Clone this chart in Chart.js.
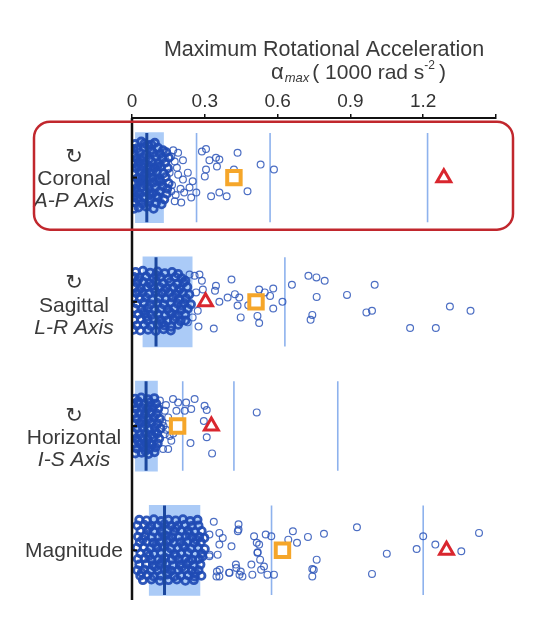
<!DOCTYPE html>
<html>
<head>
<meta charset="utf-8">
<script src="https://cdn.jsdelivr.net/npm/chart.js@4.4.1/dist/chart.umd.min.js"></script>
<style>
  html, body { margin: 0; padding: 0; background: #fff; }
  #wrap { width: 557px; height: 624px; }
</style>
</head>
<body>
<div id="wrap"><canvas id="accChart" width="557" height="624"></canvas></div>
<script>
// categories (one row per rotation axis)
var rowNames = ['Coronal', 'Sagittal', 'Horizontal', 'Magnitude'];
var rowAxes = ['A-P Axis', 'L-R Axis', 'I-S Axis', ''];
var rowPos = [1, 2, 3, 4];

// x ticks (1000 rad/s^2)
var xTicks = [0, 0.3, 0.6, 0.9, 1.2, 1.5];
var xTickLabels = ['0', '0.3', '0.6', '0.9', '1.2', ''];

// summary values per row
var boxLo = [0.014, 0.045, 0.014, 0.071];
var boxHi = [0.13, 0.248, 0.105, 0.28];
var medians = [0.061, 0.099, 0.058, 0.134];
var refLines = [[0.266, 0.569, 1.218], [0.63], [0.209, 0.42, 0.848], [0.575, 1.2]];
var squareX = [0.42, 0.511, 0.188, 0.62];
var triangleX = [1.285, 0.303, 0.327, 1.296];

// individual impacts: [value, vertical jitter within row]
// dense low-value cores
var coronalCore = [
  [0.012,-0.27],[0.038,-0.29],[0.066,-0.26],[0.094,-0.28],[0.052,-0.275],[0.08,-0.265],
  [0.021,-0.235],[0.049,-0.245],[0.078,-0.225],[0.107,-0.24],[0.128,-0.22],[0.006,-0.23],
  [0.008,-0.19],[0.031,-0.205],[0.058,-0.185],[0.087,-0.2],[0.116,-0.19],[0.141,-0.205],
  [0.019,-0.155],[0.043,-0.165],[0.071,-0.15],[0.098,-0.17],[0.126,-0.155],[0.152,-0.16],
  [0.006,-0.115],[0.028,-0.125],[0.052,-0.11],[0.081,-0.13],[0.109,-0.115],[0.137,-0.12],
  [0.017,-0.075],[0.041,-0.085],[0.063,-0.07],[0.092,-0.08],[0.119,-0.09],[0.148,-0.075],
  [0.009,-0.035],[0.033,-0.045],[0.055,-0.03],[0.074,-0.04],[0.101,-0.05],[0.131,-0.035],
  [0.022,0.005],[0.044,-0.01],[0.061,0.01],[0.083,0.0],[0.112,0.012],[0.139,-0.005],
  [0.011,0.045],[0.029,0.035],[0.053,0.05],[0.088,0.04],[0.118,0.03],[0.151,0.045],
  [0.019,0.085],[0.039,0.075],[0.069,0.09],[0.097,0.08],[0.127,0.07],[0.145,0.09],
  [0.007,0.12],[0.032,0.13],[0.057,0.115],[0.086,0.125],[0.114,0.11],[0.143,0.13],
  [0.023,0.165],[0.048,0.155],[0.077,0.17],[0.106,0.16],[0.133,0.175],[0.006,0.16],
  [0.013,0.2],[0.042,0.21],[0.068,0.195],[0.099,0.205],[0.122,0.215],
  [0.027,0.24],[0.059,0.235],[0.089,0.25],[0.008,0.25],
  [0.025,-0.1],[0.067,-0.1],[0.104,-0.09],[0.02,0.11],[0.073,0.135],[0.1,0.145],
  [0.035,-0.14],[0.085,-0.055],[0.045,0.02],[0.1,0.02],[0.065,0.06],[0.03,0.185]
];
var coronalOut = [
  [0.17,-0.22],[0.165,0.06],[0.18,0.14],[0.2,0.09],[0.185,-0.08],[0.215,0.12],
  [0.19,-0.2],[0.21,-0.14],[0.288,-0.21],[0.305,-0.23],[0.319,-0.14],[0.346,-0.16],
  [0.36,-0.145],[0.35,-0.09],[0.435,-0.2],[0.53,-0.105],[0.585,-0.065],[0.3,-0.01],
  [0.305,-0.065],[0.42,-0.065],[0.265,0.12],[0.326,0.15],[0.36,0.12],[0.39,0.15],
  [0.476,0.11],[0.25,0.03],[0.237,0.08],[0.21,0.016],[0.23,-0.04],[0.244,0.16],
  [0.203,0.2],[0.176,0.19],[0.162,0.11],[0.155,-0.04],[0.19,-0.024],[0.176,-0.13],[0.162,-0.17]
];

var sagittalCore = [
  [0.015,-0.24],[0.045,-0.25],[0.075,-0.235],[0.105,-0.245],[0.135,-0.23],[0.165,-0.24],[0.19,-0.225],
  [0.008,-0.2],[0.03,-0.195],[0.058,-0.205],[0.088,-0.19],[0.118,-0.2],[0.148,-0.185],[0.178,-0.2],[0.205,-0.19],
  [0.02,-0.155],[0.047,-0.16],[0.072,-0.15],[0.1,-0.165],[0.128,-0.15],[0.158,-0.16],[0.186,-0.145],[0.212,-0.155],
  [0.01,-0.115],[0.036,-0.11],[0.062,-0.12],[0.091,-0.105],[0.114,-0.12],[0.142,-0.11],[0.171,-0.115],[0.198,-0.105],[0.228,-0.12],
  [0.018,-0.07],[0.043,-0.075],[0.07,-0.065],[0.097,-0.08],[0.124,-0.07],[0.153,-0.075],[0.181,-0.06],[0.209,-0.07],[0.236,-0.06],
  [0.006,-0.03],[0.033,-0.025],[0.057,-0.035],[0.083,-0.02],[0.111,-0.03],[0.139,-0.025],[0.166,-0.035],[0.194,-0.02],[0.222,-0.03],
  [0.021,0.015],[0.048,0.005],[0.076,0.02],[0.104,0.01],[0.131,0.02],[0.16,0.005],[0.188,0.015],[0.215,0.01],[0.243,0.02],
  [0.012,0.055],[0.039,0.06],[0.065,0.05],[0.093,0.065],[0.12,0.055],[0.147,0.06],[0.175,0.05],[0.203,0.065],[0.23,0.055],
  [0.025,0.1],[0.052,0.095],[0.08,0.105],[0.108,0.1],[0.136,0.11],[0.163,0.095],[0.191,0.105],[0.219,0.1],
  [0.009,0.145],[0.037,0.14],[0.064,0.15],[0.09,0.135],[0.118,0.145],[0.145,0.15],[0.173,0.14],[0.2,0.155],
  [0.02,0.19],[0.05,0.185],[0.078,0.195],[0.107,0.18],[0.134,0.19],[0.162,0.2],[0.19,0.185],
  [0.034,0.23],[0.066,0.225],[0.098,0.235],[0.13,0.22],[0.16,0.23],[0.006,0.225],
  [0.028,-0.09],[0.082,-0.13],[0.135,-0.09],[0.19,-0.085],[0.05,0.075],[0.155,0.08],[0.205,0.03],
  [0.1,-0.215],[0.06,0.12],[0.18,0.12],[0.125,0.17],[0.025,-0.175],[0.22,-0.17],[0.22,0.15]
];
var sagittalOut = [
  [0.237,-0.22],[0.258,-0.21],[0.288,-0.17],[0.292,-0.1],[0.264,-0.076],[0.25,0.125],[0.23,0.165],
  [0.278,-0.22],[0.346,-0.13],[0.342,-0.09],[0.41,-0.18],[0.394,-0.035],[0.424,-0.062],
  [0.442,-0.035],[0.435,0.03],[0.448,0.125],[0.503,-0.02],[0.524,-0.1],[0.547,-0.076],
  [0.582,-0.108],[0.569,-0.048],[0.582,0.053],[0.517,0.113],[0.524,0.17],[0.479,0.027],
  [0.36,0.0],[0.337,0.215],[0.274,0.199],[0.271,0.072],[0.62,0.0],[0.659,-0.137],
  [0.727,-0.21],[0.76,-0.197],[0.794,-0.17],[0.761,-0.04],[0.743,0.105],[0.736,0.145],
  [0.886,-0.056],[1.0,-0.137],[0.966,0.085],[0.989,0.072],[1.146,0.21],[1.252,0.21],
  [1.31,0.037],[1.395,0.072]
];

var horizontalCore = [
  [0.012,-0.22],[0.038,-0.23],[0.066,-0.215],[0.092,-0.225],
  [0.006,-0.18],[0.027,-0.185],[0.05,-0.175],[0.075,-0.19],[0.1,-0.18],
  [0.016,-0.14],[0.04,-0.145],[0.062,-0.135],[0.086,-0.15],[0.108,-0.14],
  [0.008,-0.1],[0.03,-0.105],[0.054,-0.095],[0.078,-0.11],[0.102,-0.1],
  [0.019,-0.06],[0.043,-0.065],[0.067,-0.055],[0.09,-0.07],[0.114,-0.06],
  [0.01,-0.02],[0.033,-0.025],[0.057,-0.015],[0.081,-0.03],[0.105,-0.02],
  [0.021,0.02],[0.045,0.015],[0.069,0.025],[0.094,0.01],[0.118,0.02],
  [0.007,0.06],[0.031,0.065],[0.055,0.055],[0.08,0.07],[0.104,0.06],
  [0.018,0.1],[0.042,0.095],[0.065,0.105],[0.089,0.09],[0.112,0.1],
  [0.009,0.14],[0.034,0.145],[0.058,0.135],[0.083,0.15],[0.106,0.14],
  [0.02,0.18],[0.046,0.175],[0.071,0.185],[0.096,0.17],
  [0.013,0.22],[0.04,0.215],[0.068,0.225],[0.093,0.21],
  [0.025,-0.2],[0.07,-0.16],[0.045,-0.04],[0.095,0.045],[0.025,0.12],[0.075,0.145],[0.055,0.2]
];
var horizontalOut = [
  [0.115,-0.205],[0.169,-0.218],[0.19,-0.19],[0.223,-0.19],[0.258,-0.218],[0.244,-0.137],
  [0.299,-0.164],[0.308,-0.13],[0.296,-0.04],[0.308,0.09],[0.33,0.22],[0.241,0.137],
  [0.149,0.185],[0.203,0.024],[0.514,-0.11],[0.135,-0.124],[0.149,-0.07],[0.135,0.065],
  [0.162,0.118],[0.128,0.185],[0.217,-0.124],[0.183,-0.124],[0.14,-0.17],[0.13,0.0],
  [0.14,0.03],[0.155,0.08],[0.125,-0.03],[0.17,0.06]
];

var magnitudeCore = [
  [0.03,-0.245],[0.06,-0.24],[0.09,-0.25],[0.12,-0.235],[0.15,-0.245],[0.18,-0.24],[0.21,-0.25],[0.24,-0.235],[0.27,-0.245],
  [0.022,-0.2],[0.05,-0.205],[0.078,-0.195],[0.106,-0.2],[0.134,-0.21],[0.162,-0.195],[0.19,-0.2],[0.218,-0.205],[0.246,-0.195],[0.274,-0.2],
  [0.035,-0.155],[0.063,-0.16],[0.091,-0.15],[0.119,-0.155],[0.147,-0.165],[0.175,-0.15],[0.203,-0.155],[0.231,-0.16],[0.259,-0.15],[0.287,-0.155],
  [0.025,-0.11],[0.053,-0.115],[0.081,-0.105],[0.109,-0.11],[0.137,-0.12],[0.165,-0.105],[0.193,-0.11],[0.221,-0.115],[0.249,-0.105],[0.277,-0.11],[0.298,-0.1],
  [0.032,-0.065],[0.06,-0.07],[0.088,-0.06],[0.116,-0.065],[0.144,-0.075],[0.172,-0.06],[0.2,-0.065],[0.228,-0.07],[0.256,-0.06],[0.284,-0.065],
  [0.02,-0.02],[0.048,-0.025],[0.076,-0.015],[0.104,-0.02],[0.132,-0.03],[0.16,-0.015],[0.188,-0.02],[0.216,-0.025],[0.244,-0.015],[0.272,-0.02],[0.3,-0.01],
  [0.035,0.025],[0.063,0.02],[0.091,0.03],[0.119,0.025],[0.147,0.015],[0.175,0.03],[0.203,0.025],[0.231,0.02],[0.259,0.03],[0.287,0.025],
  [0.024,0.07],[0.052,0.065],[0.08,0.075],[0.108,0.07],[0.136,0.06],[0.164,0.075],[0.192,0.07],[0.22,0.065],[0.248,0.075],[0.276,0.07],
  [0.03,0.115],[0.058,0.11],[0.086,0.12],[0.114,0.115],[0.142,0.105],[0.17,0.12],[0.198,0.115],[0.226,0.11],[0.254,0.12],[0.282,0.115],
  [0.022,0.16],[0.05,0.155],[0.078,0.165],[0.106,0.16],[0.134,0.15],[0.162,0.165],[0.19,0.16],[0.218,0.155],[0.246,0.165],[0.274,0.16],
  [0.034,0.205],[0.062,0.2],[0.09,0.21],[0.118,0.205],[0.146,0.195],[0.174,0.21],[0.202,0.205],[0.23,0.2],[0.258,0.21],[0.286,0.205],
  [0.045,0.24],[0.08,0.235],[0.115,0.245],[0.15,0.24],[0.185,0.235],[0.22,0.245],[0.255,0.24],
  [0.045,-0.09],[0.1,-0.04],[0.155,-0.085],[0.21,-0.04],[0.265,-0.085],[0.07,0.045],[0.125,0.09],
  [0.18,0.045],[0.235,0.09],[0.04,0.18],[0.095,0.135],[0.15,0.18],[0.205,0.135],[0.26,0.18],
  [0.07,-0.18],[0.125,-0.135],[0.18,-0.18],[0.235,-0.135],[0.29,0.05]
];
var magnitudeOut = [
  [0.337,-0.23],[0.319,-0.127],[0.36,-0.14],[0.374,-0.1],[0.36,-0.046],[0.41,-0.032],
  [0.439,-0.21],[0.439,-0.167],[0.319,0.048],[0.353,0.035],[0.35,0.17],[0.36,0.21],
  [0.4,0.18],[0.428,0.115],[0.448,0.17],[0.455,0.21],[0.496,0.196],[0.492,0.115],
  [0.503,-0.113],[0.524,-0.046],[0.517,0.02],[0.528,0.075],[0.544,0.13],[0.558,0.196],
  [0.585,0.196],[0.551,-0.127],[0.574,-0.113],[0.663,-0.153],[0.644,-0.086],[0.68,-0.06],
  [0.725,-0.108],[0.749,0.156],[0.791,-0.133],[0.927,-0.186],[0.761,0.075],[0.743,0.15],
  [0.743,0.21],[0.989,0.19],[1.05,0.027],[1.173,-0.011],[1.2,-0.113],[1.25,-0.046],
  [1.357,0.008],[1.43,-0.14],[0.32,0.035],[0.361,0.156],[0.402,0.18],[0.443,0.196],
  [0.348,0.21],[0.43,0.142],[0.532,0.156],[0.518,0.016],[0.514,-0.06],[0.436,-0.153]
];

var coreRows = [coronalCore, sagittalCore, horizontalCore, magnitudeCore];
var outRows = [coronalOut, sagittalOut, horizontalOut, magnitudeOut];

var FONT = '"Liberation Sans", Arial, Helvetica, sans-serif';
var TEXT = '#3a3a3a';
var HALF = 0.36; // half height of a row's band, in row units

function toPoints(rows) {
  var out = [];
  rows.forEach(function(pts, i) {
    pts.forEach(function(p) {
      out.push({x: p[0], y: rowPos[i] + p[1]});
    });
  });
  return out;
}

function segments(valuesPerRow) {
  var out = [];
  valuesPerRow.forEach(function(vals, i) {
    vals.forEach(function(v) {
      out.push({x: v, y: rowPos[i] - HALF});
      out.push({x: v, y: rowPos[i] + HALF});
      out.push({x: v, y: null});
    });
  });
  return out;
}

var labelsPlugin = {
  id: 'rowLabels',
  beforeDraw: function(chart) {
    var c = chart.ctx;
    c.save();
    c.fillStyle = '#fff';
    c.fillRect(0, 0, chart.width, chart.height);
    c.restore();
  },
  afterDraw: function(chart) {
    var c = chart.ctx;
    var a = chart.chartArea;
    var ys = chart.scales.y;
    c.save();

    // left axis and row ticks
    c.strokeStyle = '#111';
    c.lineWidth = 2.5;
    c.beginPath();
    c.moveTo(a.left, a.top);
    c.lineTo(a.left, a.bottom);
    c.stroke();
    c.lineWidth = 2;
    rowPos.forEach(function(r) {
      var py = ys.getPixelForValue(r);
      c.beginPath();
      c.moveTo(a.left, py);
      c.lineTo(a.left + 5, py);
      c.stroke();
    });

    // row labels
    var shift = [2, 4, 12, 1];
    c.fillStyle = TEXT;
    c.textAlign = 'center';
    c.textBaseline = 'middle';
    rowNames.forEach(function(name, i) {
      var py = ys.getPixelForValue(rowPos[i]) + shift[i];
      var cx = 74;
      if (rowAxes[i]) {
        c.font = '21px "DejaVu Sans", sans-serif';
        c.fillText('\u21BB', cx, py - 22);
        c.font = '21px ' + FONT;
        c.fillText(name, cx, py);
        c.font = 'italic 21px ' + FONT;
        c.fillText(rowAxes[i], cx, py + 22);
      } else {
        c.font = '21px ' + FONT;
        c.fillText(name, cx, py);
      }
    });

    // axis title
    c.textBaseline = 'alphabetic';
    c.font = '21.5px ' + FONT;
    c.fillText('Maximum Rotational Acceleration', 324, 56);
    c.textAlign = 'left';
    var x0 = 271, base = 79;
    c.font = '22px ' + FONT;
    c.fillText('\u03B1', x0, base);
    x0 += c.measureText('\u03B1').width + 1;
    c.font = 'italic 13px ' + FONT;
    c.fillText('max', x0, base + 3);
    x0 += c.measureText('max').width + 3;
    c.font = '21px ' + FONT;
    c.fillText('( 1000 rad s', x0, base);
    x0 += c.measureText('( 1000 rad s').width;
    c.font = '12px ' + FONT;
    c.fillText('-2', x0, base - 10);
    x0 += c.measureText('-2').width + 4;
    c.font = '21px ' + FONT;
    c.fillText(')', x0, base);

    // highlight frame around the coronal row
    var top = ys.getPixelForValue(rowPos[0]) - 56;
    var bot = ys.getPixelForValue(rowPos[0]) + 52;
    c.strokeStyle = '#c1272d';
    c.lineWidth = 2.5;
    c.beginPath();
    c.roundRect(34, top, 479, bot - top, 16);
    c.stroke();
    c.restore();
  }
};

var ctx = document.getElementById('accChart');
var accChart = new Chart(ctx.getContext('2d'), {
  type: 'scatter',
  data: {
    datasets: [
      {
        label: 'Triangle',
        data: triangleX.map(function(v, i) { return {x: v, y: rowPos[i]}; }),
        pointStyle: 'triangle',
        pointRadius: 8,
        pointBorderWidth: 3,
        borderColor: '#d9262e',
        backgroundColor: '#fff'
      },
      {
        label: 'Square',
        data: squareX.map(function(v, i) { return {x: v, y: rowPos[i]}; }),
        pointStyle: 'rect',
        pointRadius: 9.5,
        pointBorderWidth: 4,
        borderColor: '#f5a62a',
        backgroundColor: '#fff'
      },
      {
        label: 'Median',
        type: 'line',
        data: segments(medians.map(function(m) { return [m]; })),
        borderColor: '#1b479e',
        borderWidth: 3,
        pointRadius: 0,
        spanGaps: false
      },
      {
        label: 'Impacts (core)',
        data: toPoints(coreRows),
        pointStyle: 'circle',
        pointRadius: 3.6,
        pointBorderWidth: 2.8,
        borderColor: 'rgba(32, 75, 180, 0.92)',
        backgroundColor: 'rgba(0,0,0,0)'
      },
      {
        label: 'Impacts',
        data: toPoints(outRows),
        pointStyle: 'circle',
        pointRadius: 3.4,
        pointBorderWidth: 1.2,
        borderColor: 'rgba(45, 85, 185, 0.85)',
        backgroundColor: 'rgba(0,0,0,0)'
      },
      {
        label: 'Reference',
        type: 'line',
        data: segments(refLines),
        borderColor: 'rgba(130, 170, 235, 0.9)',
        borderWidth: 1.6,
        pointRadius: 0,
        spanGaps: false
      },
      {
        label: 'IQR',
        type: 'bar',
        indexAxis: 'y',
        data: boxLo.map(function(lo, i) { return {x: [lo, boxHi[i]], y: rowPos[i]}; }),
        backgroundColor: 'rgba(150, 190, 245, 0.8)',
        borderWidth: 0,
        barThickness: 90
      }
    ]
  },
  options: {
    responsive: false,
    animation: false,
    devicePixelRatio: 1,
    layout: {
      padding: { left: 132, right: 61, top: 86, bottom: 24 }
    },
    scales: {
      x: {
        type: 'linear',
        position: 'top',
        min: 0,
        max: 1.5,
        offset: false,
        afterBuildTicks: function(scale) {
          scale.ticks = xTicks.map(function(v) { return {value: v}; });
        },
        afterFit: function(scale) { scale.height = 32; },
        ticks: {
          callback: function(value, index) { return xTickLabels[index]; },
          font: { family: FONT, size: 19 },
          color: '#333',
          padding: 1,
          maxRotation: 0,
          autoSkip: false
        },
        grid: {
          offset: false,
          drawOnChartArea: false,
          drawTicks: true,
          tickLength: 4,
          color: '#111',
          lineWidth: 1.5
        },
        border: { display: true, color: '#111', width: 2 }
      },
      y: {
        type: 'linear',
        min: 0.52,
        max: 4.4,
        reverse: true,
        offset: false,
        grid: { offset: false },
        display: false
      }
    },
    plugins: {
      legend: { display: false },
      tooltip: { enabled: false }
    }
  },
  plugins: [labelsPlugin]
});
</script>
</body>
</html>
